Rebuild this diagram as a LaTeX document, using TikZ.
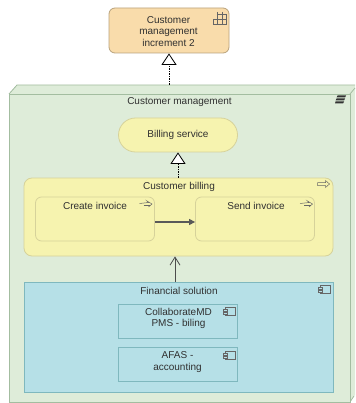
\documentclass[tikz,border=0pt]{standalone}
\usepackage{fontspec}
\setmainfont{Liberation Sans}
\usetikzlibrary{arrows.meta}
\definecolor{planfill}{HTML}{F9DCAB}
\definecolor{planline}{HTML}{B9A27C}
\definecolor{stratfill}{HTML}{DEECD9}
\definecolor{stratline}{HTML}{A3BDA0}
\definecolor{bizfill}{HTML}{F6F3AF}
\definecolor{bizline}{HTML}{D6D29A}
\definecolor{appfill}{HTML}{B6E0E7}
\definecolor{appline}{HTML}{7FB8BE}
\definecolor{textgrey}{HTML}{303030}
\tikzset{
	base/.style={draw, line width=0.8pt, inner sep=0pt, align=center, font=\fontsize{10}{11.6}\selectfont, text=textgrey},
	plan/.style={base, draw=planline, fill=planfill, rounded corners=6pt},
	busgroup/.style={base, draw=bizline, fill=bizfill, rounded corners=8pt},
	busproc/.style={base, draw=bizline, fill=bizfill, rounded corners=6pt},
	buspill/.style={base, draw=bizline, fill=bizfill, rounded corners=17pt},
	appbox/.style={base, draw=appline, fill=appfill},
	caption/.style={inner sep=0pt, align=center, font=\fontsize{10}{11.6}\selectfont, text=textgrey},
	realize/.style={dash pattern=on 1.5pt off 1pt, line width=0.8pt, -{Triangle[open, fill=white, length=11.5pt, width=15pt, line width=0.8pt]}},
	trigger/.style={line width=1.2pt, draw=black!65, -{Triangle[length=6pt, width=6pt]}},
	serve/.style={line width=0.8pt, draw=black!70, -{Straight Barb[length=8pt, width=10pt]}},
	icon/.style={draw=black!60, line width=0.5pt}
}
\newcommand{\procicon}[2]{
	\draw[icon, line join=miter] (#1, #2) -- ++(8, 0) -- ++(0, -2) -- ++(4, 3.5) -- ++(-4, 3.5) -- ++(0, -2) -- ++(-8, 0) -- cycle;
}
\newcommand{\thinprocicon}[2]{
	\draw[icon] (#1, #2+1) -- ++(9, -1) -- ++(-1.5, -1.5) -- ++(5, 3) -- ++(-3.5, 3);
	\draw[icon] (#1+4, #2+2.5) -- ++(6.5, 0);
}
\newcommand{\compicon}[2]{
	\draw[icon] (#1+2, #2) rectangle ++(10, 8);
	\draw[icon, fill=appfill] (#1, #2+1.5) rectangle ++(4, 2);
	\draw[icon, fill=appfill] (#1, #2+4.5) rectangle ++(4, 2);
}
\begin{document}
\begin{tikzpicture}[x=1pt, y=-1pt]
	%%%%% START %%%%%
	\useasboundingbox (0, 0) rectangle (355, 403);
	
	% capability box
	\fill[stratfill] (9, 94) -- (17, 85) -- (355, 85) -- (355, 395) -- (350, 402) -- (9, 402) -- cycle;
	\draw[stratline, line width=0.8pt] (9, 94) -- (17, 85) -- (355, 85);
	\draw[stratline, line width=0.8pt] (350, 94) -- (355, 88);
	\draw[stratline, line width=0.8pt] (350, 402) -- (354, 396);
	\node[base, draw=stratline, fill=stratfill, minimum width=341pt, minimum height=308pt] (capability) at (179.5, 248) {};
	\node[caption] (capabilitytext) at (179.5, 102) {Customer management};
	\fill[black!80] (337.5, 95.5) -- (346, 95.5) -- (345, 97.5) -- (336.5, 97.5) -- cycle;
	\fill[black!80] (336.5, 98.5) -- (345, 98.5) -- (344, 100.5) -- (335.5, 100.5) -- cycle;
	\fill[black!80] (335.5, 101.5) -- (344, 101.5) -- (343, 103.5) -- (335, 103.5) -- cycle;
	
	% plateau
	\node[plan, minimum width=120pt, minimum height=45pt] (increment) at (169, 30.5) {};
	\node[caption] (incrementtext) at (168.5, 31.5) {Customer\\management\\increment 2};
	\draw[icon] (213, 24) -- (213, 19) -- (217, 19) -- (217, 14) -- (226, 14) -- (226, 24) -- cycle;
	\draw[icon] (217.5, 12) -- (217.5, 24);
	\draw[icon] (222, 12) -- (222, 24);
	\draw[icon] (213, 19) -- (226, 19);
	
	% business layer
	\node[buspill, minimum width=119pt, minimum height=34pt] (billing) at (178, 135) {Billing service};
	\node[busgroup, minimum width=309pt, minimum height=78pt] (customerbilling) at (178.5, 217) {};
	\node[caption] (customerbillingtext) at (179, 186.5) {Customer billing};
	\procicon{317.5}{182.5}
	\node[busproc, minimum width=119pt, minimum height=44pt] (createinvoice) at (95, 219) {};
	\node[caption] (createinvoicetext) at (95, 205.5) {Create invoice};
	\thinprocicon{139.5}{202.5}
	\node[busproc, minimum width=119pt, minimum height=44pt] (sendinvoice) at (255, 219) {};
	\node[caption] (sendinvoicetext) at (256, 205.5) {Send invoice};
	\thinprocicon{300}{202.5}
	
	% application layer
	\node[appbox, minimum width=309pt, minimum height=110pt] (financial) at (178.5, 337) {};
	\node[caption] (financialtext) at (179, 291) {Financial solution};
	\compicon{318}{285.5}
	\node[appbox, minimum width=119pt, minimum height=34pt] (collaborate) at (178, 321) {};
	\node[caption] (collaboratetext) at (178.5, 318.5) {CollaborateMD\\PMS - biling};
	\compicon{223.5}{307.5}
	\node[appbox, minimum width=119pt, minimum height=34pt] (afas) at (178, 364.5) {};
	\node[caption] (afastext) at (177.5, 362) {AFAS -\\accounting};
	\compicon{223.5}{351.5}
	
	% relations
	\draw[realize] (capability.north -| increment.south) ++(0, -9) -- (increment.south);
	\draw[realize] (customerbilling.north -| billing.south) -- (billing.south);
	\draw[trigger] (createinvoice.east |- 0, 222) -- (sendinvoice.west |- 0, 222);
	\draw[serve] (financial.north -| 175, 0) -- (customerbilling.south -| 175, 0);
	
	%%%%% END %%%%%
\end{tikzpicture}
\end{document}
